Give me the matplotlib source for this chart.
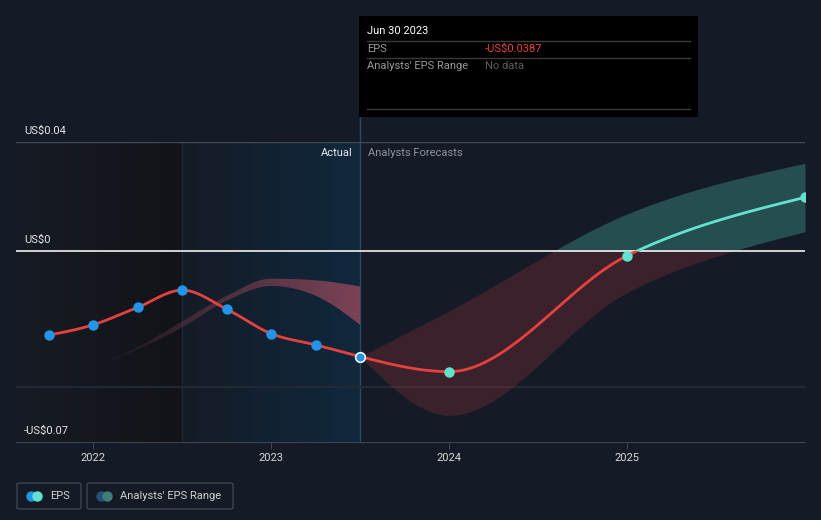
import matplotlib
matplotlib.use("Agg")
import matplotlib.pyplot as plt
import numpy as np
from matplotlib.colors import to_rgb
from matplotlib.patches import Rectangle, FancyBboxPatch
from matplotlib.lines import Line2D

plt.rcParams['font.family'] = ['Roboto', 'DejaVu Sans']

# data (decimal years, US$ per share)
actual_x = [2021.75, 2022.0, 2022.25, 2022.5, 2022.75, 2023.0, 2023.25, 2023.5]
actual_eps = [-0.0308, -0.0270, -0.0206, -0.0143, -0.0213, -0.0303, -0.0344, -0.0387]

past_x = [2022.0, 2022.25, 2022.5, 2022.75, 2023.0, 2023.25, 2023.5]
past_hi = [-0.0422, -0.0352, -0.0257, -0.0164, -0.0101, -0.0107, -0.0130]
past_lo = [-0.0422, -0.0360, -0.0279, -0.0182, -0.0128, -0.0164, -0.0271]

fc_x = [2023.5, 2024.0, 2025.0, 2026.0]
fc_eps = [-0.0387, -0.0442, -0.0017, 0.0197]
fc_hi = [-0.0387, -0.0219, 0.0136, 0.0322]
fc_lo = [-0.0387, -0.0602, -0.0152, 0.0071]

year_ticks = [2022, 2023, 2024, 2025]
y_labels = {0.04: 'US$0.04', 0.0: 'US$0', -0.07: '-US$0.07'}

BG = '#151b26'
RED = '#e5413f'
TEAL = '#62e3cf'
BLUE = '#2394e8'

W, H = 821, 520
XMIN, XMAX = 2021.565, 2026.0
YMIN, YMAX = -0.07, 0.04


def smooth(x, y, n=40):
    # monotone cubic (same idea as d3 curveMonotoneX)
    x = np.asarray(x, float)
    y = np.asarray(y, float)
    h = np.diff(x)
    s = np.diff(y) / h
    m = np.zeros_like(y)
    for i in range(1, len(x) - 1):
        p = (s[i - 1] * h[i] + s[i] * h[i - 1]) / (h[i - 1] + h[i])
        m[i] = (np.sign(s[i - 1]) + np.sign(s[i])) * min(abs(s[i - 1]), abs(s[i]), 0.5 * abs(p))
    if len(x) > 2:
        m[0] = (3 * s[0] - m[1]) / 2
        m[-1] = (3 * s[-1] - m[-2]) / 2
    else:
        m[:] = s[0]
    xs, ys = [], []
    for i in range(len(h)):
        t = np.linspace(0, 1, n, endpoint=(i == len(h) - 1))
        h00 = 2 * t**3 - 3 * t**2 + 1
        h10 = t**3 - 2 * t**2 + t
        h01 = -2 * t**3 + 3 * t**2
        h11 = t**3 - t**2
        xs.append(x[i] + t * h[i])
        ys.append(h00 * y[i] + h10 * h[i] * m[i] + h01 * y[i + 1] + h11 * h[i] * m[i + 1])
    return np.concatenate(xs), np.concatenate(ys)


def fig_xy(px, py):
    return px / W, 1 - py / H


def hgrad(ax, x0, x1, c0, c1, a0=1.0, a1=1.0, z=0):
    r0 = np.array(to_rgb(c0) + (a0,))
    r1 = np.array(to_rgb(c1) + (a1,))
    t = np.linspace(0, 1, 512)[:, None]
    img = (r0 + (r1 - r0) * t)[None, :, :]
    return ax.imshow(img, extent=(x0, x1, YMIN, YMAX), aspect='auto',
                     interpolation='bilinear', zorder=z)


fig = plt.figure(figsize=(W / 100, H / 100), dpi=100, facecolor=BG)
ax = fig.add_axes([16 / W, 78 / H, 789 / W, 300 / H])
ax.set_facecolor(BG)

# background regions
hgrad(ax, XMIN, 2022.5, '#171b23', '#111318', z=0)
hgrad(ax, 2022.5, 2023.5, '#141b26', '#10283d', z=0)
ax.axvline(2022.5, color='#1a2838', lw=1, zorder=1)
ax.axvline(2023.5, ymin=0, ymax=(442 - 117) / 300, color='#2a4660', lw=1,
           zorder=1, clip_on=False)

# gridlines
ax.axhline(0.04, color='#444a53', lw=1, zorder=1)
ax.axhline(-0.05, color='#222935', lw=1.6, zorder=1)

# past analyst range (fading band)
bx, bh = smooth(past_x, past_hi)
_, bl = smooth(past_x, past_lo)
poly = ax.fill_between(bx, bl, bh, facecolor='none', edgecolor='none')
im = hgrad(ax, 2022.0, 2023.5, '#a84c60', '#a84c60', a0=0.05, a1=0.72, z=2)
im.set_clip_path(poly.get_paths()[0], transform=ax.transData)

# forecast range band
clip_neg = Rectangle((XMIN, -1), XMAX - XMIN, 1, transform=ax.transData)
clip_pos = Rectangle((XMIN, 0), XMAX - XMIN, 1, transform=ax.transData)
fx, fh = smooth(fc_x, fc_hi)
_, fl = smooth(fc_x, fc_lo)
b1 = ax.fill_between(fx, fl, fh, color='#e8404a', alpha=0.18, lw=0, zorder=2)
b1.set_clip_path(clip_neg)
b2 = ax.fill_between(fx, fl, fh, color='#4fc2b0', alpha=0.3, lw=0, zorder=2)
b2.set_clip_path(clip_pos)

# zero line
ax.axhline(0, color='#f2f2f2', lw=1.2, zorder=3)

# EPS lines
ax_, ay_ = smooth(actual_x, actual_eps)
ax.plot(ax_, ay_, color=RED, lw=2, zorder=4, solid_capstyle='round')
lx, ly = smooth(fc_x, fc_eps)
l1, = ax.plot(lx, ly, color=RED, lw=2, zorder=4)
l1.set_clip_path(clip_neg)
l2, = ax.plot(lx, ly, color=TEAL, lw=2, zorder=4)
l2.set_clip_path(clip_pos)

# markers
ax.plot(actual_x[:-1], actual_eps[:-1], 'o', ms=6.5, color=BLUE, mec=BLUE, zorder=5)
ax.plot(actual_x[-1:], actual_eps[-1:], 'o', ms=7, color=BLUE, mec='white', mew=1.1, zorder=5)
ax.plot(fc_x[1:], fc_eps[1:], 'o', ms=6.5, color=TEAL, mec=TEAL, zorder=5)

ax.set_xlim(XMIN, XMAX)
ax.set_ylim(YMIN, YMAX)

for sp in ['top', 'left', 'right']:
    ax.spines[sp].set_visible(False)
ax.spines['bottom'].set_color('#3d4450')
ax.set_yticks([])
ax.set_xticks(year_ticks)
ax.set_xticklabels([str(y) for y in year_ticks])
ax.tick_params(axis='x', colors='#3d4450', labelcolor='#d8d8d8', length=5,
               labelsize=8, pad=3)

for v, lab in y_labels.items():
    ax.annotate(lab, xy=(0, v), xycoords=('axes fraction', 'data'),
                xytext=(8, 6), textcoords='offset pixels', ha='left', va='bottom',
                color='#e6e6e6', fontsize=8)

ax.annotate('Actual', xy=(2023.5, 0.04), xytext=(-8, -6), textcoords='offset pixels',
            ha='right', va='top', color='#e8e8e8', fontsize=8)
ax.annotate('Analysts Forecasts', xy=(2023.5, 0.04), xytext=(8, -6),
            textcoords='offset pixels', ha='left', va='top', color='#8d939c', fontsize=8)

# tooltip
x0, y0 = fig_xy(359, 117)
fig.add_artist(Rectangle((x0, y0), 339 / W, 101 / H, transform=fig.transFigure,
                         facecolor='black', edgecolor='none', zorder=10))
for py in [41, 58, 109]:
    fig.add_artist(Line2D([367 / W, 690 / W], [1 - py / H] * 2, transform=fig.transFigure,
                          color='#3a3a3a', lw=1, zorder=11))
fig.text(*fig_xy(367, 31), 'Jun 30 2023', color='white', fontsize=8, va='center', zorder=12)
fig.text(*fig_xy(367, 49), 'EPS', color='#9a9a9a', fontsize=8, va='center', zorder=12)
fig.text(*fig_xy(485, 49), '-US$0.0387', color='#e5413f', fontsize=8, va='center', zorder=12)
fig.text(*fig_xy(367, 66), "Analysts' EPS Range", color='#9a9a9a', fontsize=8,
         va='center', zorder=12)
fig.text(*fig_xy(485, 66), 'No data', color='#5f5f5f', fontsize=8, va='center', zorder=12)


# legend
def legend_item(px0, px1, c_a, c_b, label):
    lx0, ly0 = fig_xy(px0, 509)
    fig.add_artist(FancyBboxPatch((lx0, ly0), (px1 - px0) / W, 26 / H,
                                  boxstyle='round,pad=0,rounding_size=0.003',
                                  transform=fig.transFigure, facecolor='none',
                                  edgecolor='#3d4450', lw=1))
    cx, cy = fig_xy(px0 + 14, 496)
    fig.add_artist(Line2D([cx], [cy], marker='o', ms=6.5, color=c_a, mec=c_a,
                          transform=fig.transFigure))
    cx2, _ = fig_xy(px0 + 20, 496)
    fig.add_artist(Line2D([cx2], [cy], marker='o', ms=6.5, color=c_b, mec=c_b,
                          transform=fig.transFigure))
    tx, _ = fig_xy(px0 + 33, 496)
    fig.text(tx, cy, label, color='#d0d0d0', fontsize=8, va='center')


legend_item(17, 81, BLUE, TEAL, 'EPS')
legend_item(87, 233, '#24507a', '#3e7f7a', "Analysts' EPS Range")

fig.savefig('out.png', dpi=100, facecolor=BG)
